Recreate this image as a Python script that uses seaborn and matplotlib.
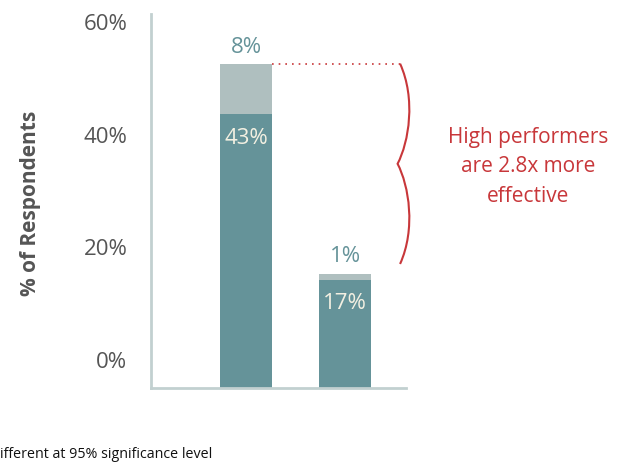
import matplotlib
matplotlib.use("Agg")
import matplotlib.pyplot as plt
import seaborn as sns
import pandas as pd
from matplotlib.path import Path
from matplotlib.patches import PathPatch

# ---- data ----
groups = ["High performers", "Others"]
base_values = [43, 17]      # dark segment
extra_values = [8, 1]       # light segment on top
tick_values = [0, 20, 40, 60]
tick_labels = ["0%", "20%", "40%", "60%"]
annotation = "High performers\nare 2.8x more\neffective"
footnote = "ifferent at 95% significance level"
ylabel = "% of Respondents"

totals = [b + e for b, e in zip(base_values, extra_values)]
df = pd.DataFrame({"group": groups, "base": base_values, "total": totals})

DARK = "#659399"
LIGHT = "#AFBFBF"
AXIS = "#C2D0D0"
RED = "#C8373A"
GRAY = "#555555"

sns.set_theme(style="white")
plt.rcParams["font.family"] = ["Open Sans", "DejaVu Sans"]

fig = plt.figure(figsize=(6.24, 4.62), dpi=100)
ax = fig.add_axes([151/624, 1-388/462, (406-151)/624, (388-14)/462])

sns.barplot(data=df, x="group", y="total", color=LIGHT, width=0.525,
            saturation=1, ax=ax, linewidth=0)
sns.barplot(data=df, x="group", y="base", color=DARK, width=0.525,
            saturation=1, ax=ax, linewidth=0)

ax.set_xlim(-0.96, 1.616)
ax.set_ylim(0, 58.8)
ax.set_xticks([])
ax.set_yticks([])
ax.set_xlabel("")
ax.set_ylabel("")
for s in ["top", "right"]:
    ax.spines[s].set_visible(False)
for s in ["left", "bottom"]:
    ax.spines[s].set_color(AXIS)
    ax.spines[s].set_linewidth(2)

# tick labels on their own scale (as in the reference)
ax2 = ax.twinx()
ax2.yaxis.tick_left()
ax2.set_ylim(-4.97, 61.42)
ax2.set_yticks(tick_values)
ax2.set_yticklabels(tick_labels, fontsize=16, color=GRAY)
ax2.tick_params(axis="y", length=0, pad=17)
for s in ax2.spines.values():
    s.set_visible(False)

fig.text(31/624, 1-203/462, ylabel, rotation=90, ha="center", va="center",
         fontsize=15, fontweight="bold", color=GRAY)

# value labels
for i, (b, e, t) in enumerate(zip(base_values, extra_values, totals)):
    ax.text(i, t + 2.6, f"{e}%", ha="center", va="center", fontsize=16, color=DARK)
    ax.text(i, b - 3.7, f"{b}%", ha="center", va="center", fontsize=16, color="#F3F0E2")

# dotted guide and brace
x0 = 1.556
top = totals[0]
bottom = 19.5
mid = (top + bottom) / 2
h = (top - bottom) / 2
ax.plot([0.2625, x0], [top, top], linestyle=(0, (1, 3)), color=RED, lw=1.2,
        clip_on=False)
verts = [(x0, top),
         (x0 + 0.16, top - 0.35*h), (x0 + 0.09, mid + 0.22*h), (x0 - 0.025, mid),
         (x0 + 0.09, mid - 0.22*h), (x0 + 0.16, bottom + 0.35*h), (x0, bottom)]
codes = [Path.MOVETO] + [Path.CURVE4]*6
ax.add_patch(PathPatch(Path(verts, codes), fill=False, edgecolor=RED, lw=1.5,
                       clip_on=False))

fig.text(528/624, 1-167/462, annotation, ha="center", va="center",
         fontsize=15, color=RED, linespacing=1.5)

fig.text(0, 1-455/462, footnote, ha="left", va="center", fontsize=10.3, color="#111111")

fig.savefig("out.png", dpi=100)
